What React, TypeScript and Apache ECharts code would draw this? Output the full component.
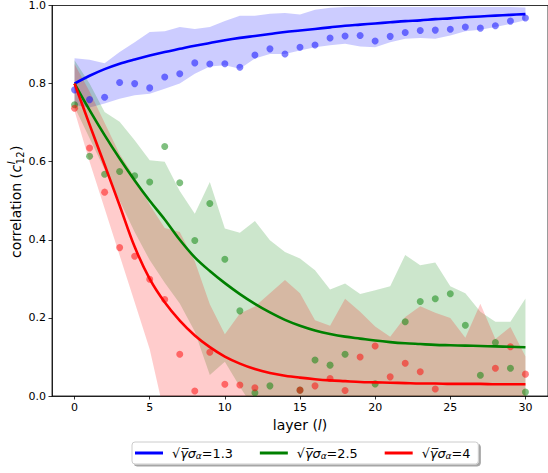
import React, { useEffect, useRef } from "react";
import * as echarts from "echarts";

const layers = [0, 1, 2, 3, 4, 5, 6, 7, 8, 9, 10, 11, 12, 13, 14, 15, 16, 17, 18, 19, 20, 21, 22, 23, 24, 25, 26, 27, 28, 29, 30];
const xTicks = [0, 5, 10, 15, 20, 25, 30];

// sqrt(gamma) sigma_alpha = 1.3
const blueCurve = [0.800, 0.820, 0.837, 0.851, 0.862, 0.872, 0.881, 0.889, 0.897, 0.904, 0.911, 0.917, 0.922, 0.927, 0.932, 0.936, 0.940, 0.944, 0.948, 0.951, 0.954, 0.957, 0.960, 0.962, 0.965, 0.967, 0.970, 0.972, 0.974, 0.976, 0.978];
const blueUpper = [0.865, 0.861, 0.852, 0.881, 0.906, 0.932, 0.934, 0.945, 0.940, 0.945, 0.960, 0.974, 0.974, 0.979, 0.981, 0.977, 0.989, 0.994, 0.996, 0.997, 0.996, 0.996, 0.996, 0.996, 0.996, 0.996, 0.996, 0.996, 0.996, 0.996, 0.995];
const blueLower = [0.745, 0.739, 0.749, 0.761, 0.770, 0.774, 0.787, 0.800, 0.825, 0.844, 0.847, 0.838, 0.864, 0.876, 0.876, 0.885, 0.893, 0.898, 0.902, 0.895, 0.893, 0.906, 0.915, 0.917, 0.915, 0.923, 0.934, 0.938, 0.945, 0.953, 0.962];
const blueDots = [0.784, 0.759, 0.765, 0.803, 0.800, 0.789, 0.817, 0.825, 0.853, 0.850, 0.851, 0.842, 0.873, 0.889, 0.876, 0.893, 0.899, 0.917, 0.922, 0.923, 0.909, 0.921, 0.931, 0.936, 0.937, 0.939, 0.945, 0.942, 0.948, 0.960, 0.968];

// sqrt(gamma) sigma_alpha = 2.5
const greenCurve = [0.800, 0.732, 0.668, 0.608, 0.552, 0.500, 0.452, 0.400, 0.355, 0.320, 0.289, 0.261, 0.236, 0.214, 0.195, 0.180, 0.168, 0.159, 0.152, 0.147, 0.142, 0.138, 0.135, 0.133, 0.131, 0.130, 0.129, 0.128, 0.127, 0.126, 0.125];
const greenUpper = [0.860, 0.800, 0.727, 0.702, 0.655, 0.604, 0.600, 0.525, 0.467, 0.548, 0.429, 0.418, 0.448, 0.399, 0.369, 0.352, 0.322, 0.273, 0.288, 0.261, 0.271, 0.281, 0.361, 0.335, 0.342, 0.281, 0.263, 0.216, 0.190, 0.190, 0.250];
const greenLower = [0.740, 0.660, 0.580, 0.500, 0.420, 0.348, 0.290, 0.237, 0.165, 0.054, 0.088, 0.024, -0.036, -0.05, -0.05, -0.05, -0.05, -0.05, -0.05, -0.05, -0.05, -0.05, -0.05, -0.05, -0.05, -0.05, -0.05, -0.05, -0.05, -0.05, -0.05];
const greenDots: (number | null)[] = [0.746, 0.614, 0.568, 0.575, 0.564, 0.548, 0.639, 0.546, 0.398, 0.493, 0.350, 0.218, 0.0085, 0.026, null, 0.015, 0.092, 0.079, 0.107, null, 0.031, null, 0.190, 0.242, 0.249, 0.262, 0.181, 0.053, 0.137, 0.071, 0.010];

// sqrt(gamma) sigma_alpha = 4
const redCurve = [0.800, 0.695, 0.592, 0.488, 0.382, 0.300, 0.240, 0.193, 0.155, 0.125, 0.101, 0.083, 0.069, 0.059, 0.052, 0.047, 0.043, 0.040, 0.038, 0.036, 0.035, 0.034, 0.033, 0.032, 0.032, 0.031, 0.031, 0.031, 0.030, 0.030, 0.030];
const redUpper = [0.850, 0.780, 0.700, 0.620, 0.560, 0.490, 0.430, 0.420, 0.345, 0.235, 0.158, 0.211, 0.229, 0.263, 0.297, 0.263, 0.194, 0.180, 0.249, 0.216, 0.178, 0.152, 0.202, 0.230, 0.213, 0.200, 0.149, 0.236, 0.146, 0.177, 0.101];
const redLower = [0.730, 0.600, 0.480, 0.360, 0.240, 0.120, -0.05, -0.1, -0.1, -0.1, -0.1, -0.1, -0.1, -0.1, -0.1, -0.1, -0.1, -0.1, -0.1, -0.1, -0.1, -0.1, -0.1, -0.1, -0.1, -0.1, -0.1, -0.1, -0.1, -0.1, -0.1];
const redDots: (number | null)[] = [0.737, 0.635, 0.522, 0.380, 0.358, 0.299, 0.247, 0.107, 0.013, 0.112, 0.030, 0.028, 0.021, null, null, 0.015, 0.026, 0.045, 0.014, 0.100, 0.128, 0.049, 0.084, 0.062, 0.018, null, null, null, 0.071, 0.126, 0.056];

const seriesNames = ["s13", "s25", "s4"];
const seriesValues = ["1.3", "2.5", "4"];
const colors = ["#0000ff", "#008000", "#ff0000"];
const fills = ["rgba(0,0,255,0.2)", "rgba(0,128,0,0.2)", "rgba(255,0,0,0.2)"];

const FONT = "DejaVu Sans";

function band(lower: number[], upper: number[], fill: string) {
  return {
    type: "custom",
    z: 1,
    silent: true,
    data: layers.map((l, i) => [l, lower[i], upper[i]]),
    encode: { x: 0, y: [1, 2] },
    renderItem: (params: any, api: any) => {
      if (params.dataIndex !== 0) return null;
      const pts: number[][] = [];
      layers.forEach((l, i) => pts.push(api.coord([l, upper[i]])));
      for (let i = layers.length - 1; i >= 0; i--) pts.push(api.coord([layers[i], lower[i]]));
      const cs = params.coordSys;
      return {
        type: "group",
        clipPath: { type: "rect", shape: { x: cs.x, y: cs.y, width: cs.width, height: cs.height } },
        children: [{ type: "polygon", shape: { points: pts }, style: { fill, stroke: "none" } }],
      };
    },
  };
}

function dots(vals: (number | null)[], color: string) {
  return {
    type: "scatter",
    z: 2,
    symbolSize: 7,
    itemStyle: { color, opacity: 0.5 },
    data: layers.filter((_, i) => vals[i] != null).map((l) => [l, vals[l] as number]),
  };
}

function curve(name: string, vals: number[], color: string) {
  return {
    type: "line",
    name,
    z: 3,
    symbol: "none",
    smooth: 0.35,
    itemStyle: { color },
    lineStyle: { color, width: 2.6 },
    data: layers.map((l, i) => [l, vals[i]]),
  };
}

export default function App() {
  const ref = useRef<HTMLDivElement>(null);
  useEffect(() => {
    document.body.style.margin = "0";
    const chart = echarts.init(ref.current!, null, { renderer: "svg" });
    const option: any = {
      animation: false,
      textStyle: { fontFamily: FONT },
      grid: { left: 52, top: 5, width: 501.6, height: 391, show: true, borderColor: "#000", borderWidth: 0.8, backgroundColor: "transparent" },
      xAxis: {
        type: "value",
        min: -1.5,
        max: 31.5,
        axisLine: { show: true, onZero: false, lineStyle: { color: "#000", width: 0.8 } },
        axisTick: { show: true, customValues: xTicks, length: 3.5, lineStyle: { color: "#000", width: 0.8 } },
        axisLabel: { customValues: xTicks, fontSize: 11, color: "#000", margin: 6, fontFamily: FONT },
        splitLine: { show: false },
        name: "{a|layer (}{b|l}{a|)}",
        nameLocation: "middle",
        nameGap: 20,
        nameTextStyle: {
          rich: {
            a: { fontSize: 14, fontFamily: FONT, color: "#000" },
            b: { fontSize: 14, fontFamily: FONT, fontStyle: "italic", color: "#000" },
          },
        },
      },
      yAxis: {
        type: "value",
        min: 0,
        max: 1,
        interval: 0.2,
        axisLine: { show: true, onZero: false, lineStyle: { color: "#000", width: 0.8 } },
        axisTick: { show: true, length: 3.5, lineStyle: { color: "#000", width: 0.8 } },
        axisLabel: { fontSize: 11, color: "#000", margin: 6, fontFamily: FONT, formatter: (v: number) => v.toFixed(1) },
        splitLine: { show: false },
      },
      legend: {
        data: seriesNames.map((n) => ({ name: n, icon: "rect" })),
        left: 132,
        top: 442,
        orient: "horizontal",
        itemWidth: 28,
        itemHeight: 3,
        itemGap: 27,
        padding: [4, 8, 4, 3],
        backgroundColor: "#fff",
        borderColor: "#cccccc",
        borderWidth: 1,
        borderRadius: 3,
        shadowColor: "rgba(0,0,0,0.35)",
        shadowOffsetX: 2,
        shadowOffsetY: 2,
        shadowBlur: 1,
        selectedMode: false,
        formatter: (name: string) => {
          const v = seriesValues[seriesNames.indexOf(name)];
          return `{r|√}{g|γ\u0305}{s|σ}{u|α}{n|=${v}}`;
        },
        textStyle: {
          padding: [0, 0, 0, 4],
          rich: {
            r: { fontSize: 12.8, fontFamily: FONT, color: "#000", lineHeight: 17 },
            g: { fontSize: 12.8, fontFamily: FONT, fontStyle: "italic", color: "#000", lineHeight: 17 },
            s: { fontSize: 12.8, fontFamily: FONT, fontStyle: "italic", color: "#000", lineHeight: 17 },
            u: { fontSize: 9, fontFamily: FONT, fontStyle: "italic", color: "#000", lineHeight: 17, padding: [5, 0, 0, 0] },
            n: { fontSize: 12.8, fontFamily: FONT, color: "#000", lineHeight: 17 },
          },
        },
      },
      graphic: [
        {
          type: "group",
          x: 16,
          y: 200.5,
          rotation: Math.PI / 2,
          children: [
            { type: "text", x: -57.5, y: 0, style: { text: "correlation (", font: `14px '${FONT}'`, fill: "#000", textAlign: "left", textVerticalAlign: "middle" } },
            { type: "text", x: 28.1, y: 0, style: { text: "c", font: `italic 14px '${FONT}'`, fill: "#000", textAlign: "left", textVerticalAlign: "middle" } },
            { type: "text", x: 36.3, y: -5, style: { text: "l", font: `italic 10px '${FONT}'`, fill: "#000", textAlign: "left", textVerticalAlign: "middle" } },
            { type: "text", x: 36.3, y: 4, style: { text: "12", font: `10px '${FONT}'`, fill: "#000", textAlign: "left", textVerticalAlign: "middle" } },
            { type: "text", x: 49.5, y: 0, style: { text: ")", font: `14px '${FONT}'`, fill: "#000", textAlign: "left", textVerticalAlign: "middle" } },
          ],
        },
      ],
      series: [
        band(blueLower, blueUpper, fills[0]),
        band(greenLower, greenUpper, fills[1]),
        band(redLower, redUpper, fills[2]),
        dots(blueDots, colors[0]),
        dots(greenDots, colors[1]),
        dots(redDots, colors[2]),
        curve(seriesNames[0], blueCurve, colors[0]),
        curve(seriesNames[1], greenCurve, colors[1]),
        curve(seriesNames[2], redCurve, colors[2]),
      ],
    };
    chart.setOption(option);
    return () => chart.dispose();
  }, []);
  return <div ref={ref} style={{ width: 548, height: 473 }} />;
}
